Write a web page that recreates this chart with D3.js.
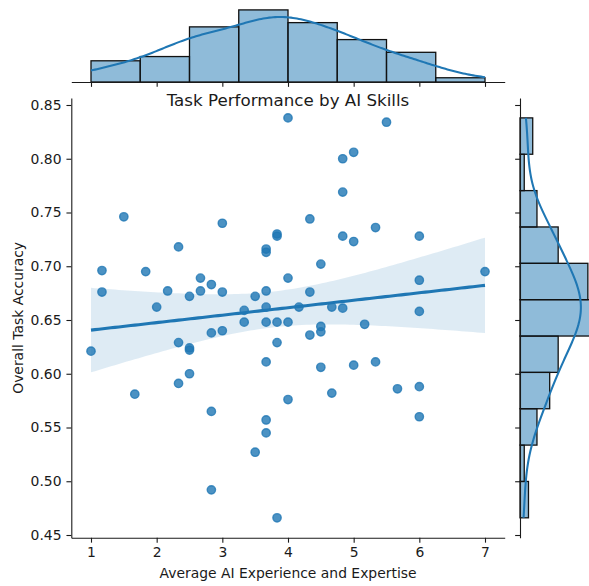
<!DOCTYPE html>
<html>
<head>
<meta charset="utf-8">
<script src="https://cdn.jsdelivr.net/npm/d3@7"></script>
<style>
  body { margin: 0; background: #fff; }
  svg { display: block; }
  text { font-family: "DejaVu Sans", sans-serif; fill: #1a1a1a; }
</style>
</head>
<body>
<svg id="chart" width="589" height="586"></svg>
<script>
// Average AI experience/expertise score per participant
const aiExperience = [
  1.0,
  1.167, 1.167,
  1.5,
  1.667,
  1.833,
  2.0,
  2.167,
  2.333, 2.333, 2.333,
  2.5, 2.5, 2.5, 2.5,
  2.667, 2.667,
  2.833, 2.833, 2.833, 2.833,
  3.0, 3.0, 3.0,
  3.333, 3.333,
  3.5, 3.5,
  3.667, 3.667, 3.667, 3.667, 3.667, 3.667, 3.667, 3.667,
  3.833, 3.833, 3.833, 3.833, 3.833,
  4.0, 4.0, 4.0, 4.0,
  4.167,
  4.333, 4.333, 4.333,
  4.5, 4.5, 4.5, 4.5,
  4.667, 4.667,
  4.833, 4.833, 4.833, 4.833,
  5.0, 5.0, 5.0,
  5.167,
  5.333, 5.333,
  5.5,
  5.667,
  6.0, 6.0, 6.0, 6.0, 6.0,
  7.0
];

// Overall task accuracy per participant (same order)
const taskAccuracy = [
  0.621,
  0.696, 0.676,
  0.746,
  0.581,
  0.695,
  0.662,
  0.677,
  0.718, 0.629, 0.591,
  0.672, 0.624, 0.622, 0.600,
  0.689, 0.677,
  0.683, 0.638, 0.565, 0.492,
  0.740, 0.676, 0.640,
  0.659, 0.648,
  0.672, 0.527,
  0.716, 0.713, 0.677, 0.662, 0.648, 0.611, 0.557, 0.545,
  0.730, 0.728, 0.648, 0.629, 0.466,
  0.838, 0.689, 0.648, 0.576,
  0.662,
  0.744, 0.676, 0.636,
  0.702, 0.644, 0.639, 0.606,
  0.662, 0.582,
  0.800, 0.769, 0.728, 0.661,
  0.806, 0.723, 0.608,
  0.646,
  0.736, 0.611,
  0.834,
  0.586,
  0.728, 0.687, 0.658, 0.588, 0.560,
  0.695
];

const xTicks = [1, 2, 3, 4, 5, 6, 7];
const yTicks = [0.45, 0.50, 0.55, 0.60, 0.65, 0.70, 0.75, 0.80, 0.85];
const xBinCount = 8;
const yBinCount = 11;

const chartTitle = "Task Performance by AI Skills";
const xLabel = "Average AI Experience and Expertise";
const yLabel = "Overall Task Accuracy";

// ---- layout ----
const C0 = "#1f77b4";
const main = { left: 71.3, right: 504.7, top: 97.9, bottom: 537.8 };
const margSize = 75.7;
const topMargBase = 82;     // baseline of the top marginal histogram
const rightMargBase = 520;  // baseline of the right marginal histogram
const tickLen = 4.86;
const fontSize = 13.9;

const svg = d3.select("#chart");

// 5% padding on each side, like matplotlib autoscaling
function padded(ext) {
  const p = (ext[1] - ext[0]) * 0.05;
  return [ext[0] - p, ext[1] + p];
}

const x = d3.scaleLinear()
  .domain(padded(d3.extent(aiExperience)))
  .range([main.left, main.right]);
const y = d3.scaleLinear()
  .domain(padded(d3.extent(taskAccuracy)))
  .range([main.bottom, main.top]);

// equal-width bins spanning the data range
function equalBins(values, count) {
  const [lo, hi] = d3.extent(values);
  const w = (hi - lo) / count;
  const thresholds = d3.range(1, count).map(i => lo + i * w);
  const bins = d3.bin().domain([lo, hi]).thresholds(thresholds)(values);
  return { bins, width: w, lo, hi };
}

// gaussian KDE (Scott bandwidth), evaluated over the data range, scaled to counts
function kdeCounts(values, binWidth) {
  const n = values.length;
  const h = d3.deviation(values) * Math.pow(n, -0.2);
  const [lo, hi] = d3.extent(values);
  const grid = d3.range(200).map(i => lo + i * (hi - lo) / 199);
  const norm = 1 / (n * h * Math.sqrt(2 * Math.PI));
  return grid.map(g => [g,
    norm * d3.sum(values, v => Math.exp(-0.5 * ((g - v) / h) ** 2)) * n * binWidth]);
}

// ---- linear fit with 95% confidence band ----
const n = aiExperience.length;
const xm = d3.mean(aiExperience), ym = d3.mean(taskAccuracy);
let sxx = 0, sxy = 0;
for (let i = 0; i < n; i++) {
  sxx += (aiExperience[i] - xm) ** 2;
  sxy += (aiExperience[i] - xm) * (taskAccuracy[i] - ym);
}
const slope = sxy / sxx;
const intercept = ym - slope * xm;
let sse = 0;
for (let i = 0; i < n; i++) sse += (taskAccuracy[i] - (intercept + slope * aiExperience[i])) ** 2;
const sRes = Math.sqrt(sse / (n - 2));
const tCrit = 1.994;
const [gx0, gx1] = d3.extent(aiExperience);
const fit = d3.range(100).map(i => {
  const gx = gx0 + i * (gx1 - gx0) / 99;
  const yhat = intercept + slope * gx;
  const se = sRes * Math.sqrt(1 / n + (gx - xm) ** 2 / sxx);
  return { x: gx, y: yhat, lo: yhat - tCrit * se, hi: yhat + tCrit * se };
});

// ---- joint scatter ----
const joint = svg.append("g");
joint.append("g").selectAll("circle")
  .data(aiExperience.map((v, i) => [v, taskAccuracy[i]]))
  .join("circle")
  .attr("cx", d => x(d[0]))
  .attr("cy", d => y(d[1]))
  .attr("r", 4.17)
  .attr("fill", C0).attr("fill-opacity", 0.8)
  .attr("stroke", C0).attr("stroke-opacity", 0.8).attr("stroke-width", 1.39);

joint.append("path")
  .datum(fit)
  .attr("fill", C0).attr("fill-opacity", 0.15)
  .attr("d", d3.area().x(d => x(d.x)).y0(d => y(d.lo)).y1(d => y(d.hi)));

joint.append("path")
  .datum(fit)
  .attr("fill", "none").attr("stroke", C0).attr("stroke-width", 3.1)
  .attr("d", d3.line().x(d => x(d.x)).y(d => y(d.y)));

// ---- axes for the joint plot ----
function styleAxis(g) {
  g.attr("font-family", "DejaVu Sans, sans-serif").attr("font-size", fontSize);
  g.select(".domain").attr("stroke", "#1a1a1a").attr("stroke-width", 1.1);
  g.selectAll(".tick line").attr("stroke", "#1a1a1a").attr("stroke-width", 1.1);
  g.selectAll(".tick text").attr("fill", "#1a1a1a");
}

svg.append("g")
  .attr("transform", `translate(0,${main.bottom})`)
  .call(d3.axisBottom(x).tickValues(xTicks).tickFormat(d3.format("d"))
    .tickSize(tickLen).tickSizeOuter(0).tickPadding(4.9))
  .call(styleAxis);

svg.append("g")
  .attr("transform", `translate(${main.left},0)`)
  .call(d3.axisLeft(y).tickValues(yTicks).tickFormat(d3.format(".2f"))
    .tickSize(tickLen).tickSizeOuter(0).tickPadding(4.9))
  .call(styleAxis);

svg.append("text")
  .attr("x", (main.left + main.right) / 2).attr("y", 577.8)
  .attr("text-anchor", "middle").attr("font-size", fontSize)
  .text(xLabel);

svg.append("text")
  .attr("transform", `translate(22.7,${(main.top + main.bottom) / 2}) rotate(-90)`)
  .attr("text-anchor", "middle").attr("font-size", fontSize)
  .text(yLabel);

// ---- top marginal: experience histogram ----
const hx = equalBins(aiExperience, xBinCount);
const topCount = d3.scaleLinear()
  .domain([0, d3.max(hx.bins, b => b.length) * 1.05])
  .range([topMargBase, topMargBase - margSize]);

const topG = svg.append("g");
topG.selectAll("rect")
  .data(hx.bins)
  .join("rect")
  .attr("x", b => x(b.x0))
  .attr("width", b => x(b.x1) - x(b.x0))
  .attr("y", b => topCount(b.length))
  .attr("height", b => topCount(0) - topCount(b.length))
  .attr("fill", C0).attr("fill-opacity", 0.5)
  .attr("stroke", "#111").attr("stroke-width", 1.3);

topG.append("path")
  .datum(kdeCounts(aiExperience, hx.width))
  .attr("fill", "none").attr("stroke", C0).attr("stroke-width", 2.08)
  .attr("d", d3.line().x(d => x(d[0])).y(d => topCount(d[1])));

svg.append("g")
  .attr("transform", `translate(0,${topMargBase})`)
  .call(d3.axisBottom(x).tickValues(xTicks).tickFormat("")
    .tickSize(tickLen).tickSizeOuter(0))
  .call(styleAxis);

// ---- right marginal: accuracy histogram ----
const hy = equalBins(taskAccuracy, yBinCount);
const rightCount = d3.scaleLinear()
  .domain([0, d3.max(hy.bins, b => b.length) * 1.05])
  .range([rightMargBase, rightMargBase + margSize]);

const rightG = svg.append("g");
rightG.selectAll("rect")
  .data(hy.bins)
  .join("rect")
  .attr("x", rightCount(0))
  .attr("width", b => rightCount(b.length) - rightCount(0))
  .attr("y", b => y(b.x1))
  .attr("height", b => y(b.x0) - y(b.x1))
  .attr("fill", C0).attr("fill-opacity", 0.5)
  .attr("stroke", "#111").attr("stroke-width", 1.3);

rightG.append("path")
  .datum(kdeCounts(taskAccuracy, hy.width))
  .attr("fill", "none").attr("stroke", C0).attr("stroke-width", 2.08)
  .attr("d", d3.line().x(d => rightCount(d[1])).y(d => y(d[0])));

svg.append("g")
  .attr("transform", `translate(${rightMargBase},0)`)
  .call(d3.axisLeft(y).tickValues(yTicks).tickFormat("")
    .tickSize(tickLen).tickSizeOuter(0))
  .call(styleAxis);

// ---- title ----
svg.append("text")
  .attr("x", (main.left + main.right) / 2).attr("y", 106)
  .attr("text-anchor", "middle").attr("font-size", 16.7)
  .text(chartTitle);
</script>
</body>
</html>
